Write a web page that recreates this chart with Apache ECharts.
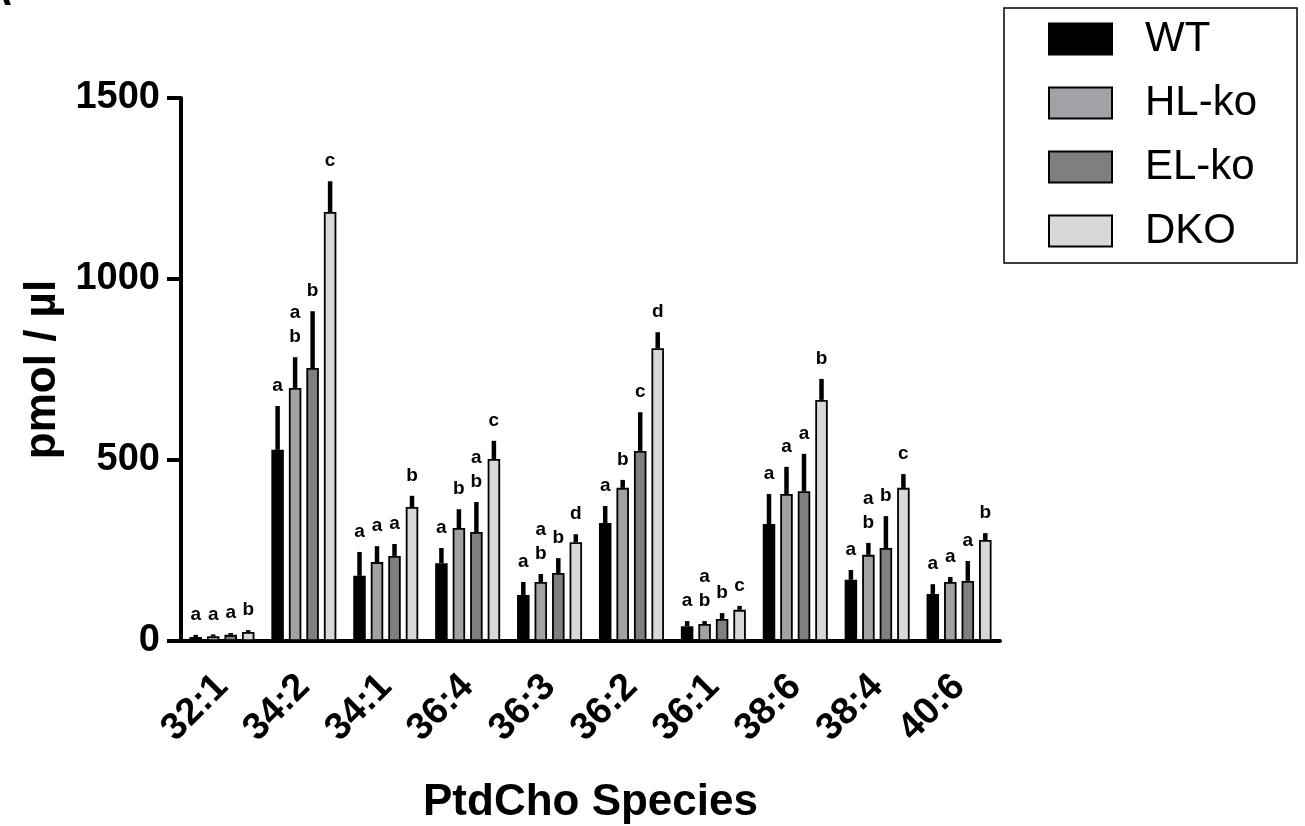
<!DOCTYPE html>
<html>
<head>
<meta charset="utf-8">
<script src="https://cdn.jsdelivr.net/npm/echarts@6/dist/echarts.min.js"></script>
<style>
  html, body { margin: 0; padding: 0; background: #fff; }
  #chart { width: 1305px; height: 826px; }
</style>
</head>
<body>
<div id="chart"></div>
<script>
// PtdCho species, mean and SD (upper bar only), letters from the stats test
const categories = ['32:1', '34:2', '34:1', '36:4', '36:3', '36:2', '36:1', '38:6', '38:4', '40:6'];
const groups = ['WT', 'HL-ko', 'EL-ko', 'DKO'];
const colors = ['#000000', '#a2a2a6', '#7f7f7f', '#d8d8d8'];

const wt     = [11, 528, 180, 215, 127, 326, 41, 323, 169, 130];
const wtErr  = [6, 121, 66, 42, 36, 47, 14, 83, 27, 27];
const hl     = [13, 699, 218, 312, 163, 423, 47, 406, 238, 163];
const hlErr  = [5, 85, 44, 52, 22, 22, 8, 75, 33, 14];
const el     = [17, 754, 235, 301, 188, 525, 61, 414, 257, 166];
const elErr  = [5, 157, 33, 83, 41, 107, 16, 103, 88, 55];
const dko    = [25, 1185, 370, 503, 273, 809, 86, 666, 423, 279];
const dkoErr = [5, 85, 31, 50, 22, 44, 11, 58, 38, 19];

const wtSig  = ['a', 'a', 'a', 'a', 'a', 'a', 'a', 'a', 'a', 'a'];
const hlSig  = ['a', 'ab', 'a', 'b', 'ab', 'b', 'ab', 'a', 'ab', 'a'];
const elSig  = ['a', 'b', 'a', 'ab', 'b', 'c', 'b', 'a', 'b', 'a'];
const dkoSig = ['b', 'c', 'b', 'c', 'd', 'd', 'c', 'b', 'c', 'b'];

const yTicks = [0, 500, 1000, 1500];

const means = [wt, hl, el, dko];
const errs = [wtErr, hlErr, elErr, dkoErr];
const sigs = [wtSig, hlSig, elSig, dkoSig];

const FONT = '"Liberation Sans", Arial, Helvetica, sans-serif';
const BAR_W = 12.5;
const BAR_GAP = 0.4;
const STEP = BAR_W * (1 + BAR_GAP);

const chart = echarts.init(document.getElementById('chart'));

const barSeries = groups.map((g, i) => ({
  name: g,
  type: 'bar',
  data: means[i],
  barWidth: BAR_W,
  barGap: (BAR_GAP * 100) + '%',
  itemStyle: { color: colors[i], borderColor: '#000', borderWidth: 1.8 },
  emphasis: { disabled: true },
  z: 2
}));

// error bar + significance letters drawn on top of each bar
const errSeries = groups.map((g, i) => ({
  type: 'custom',
  data: categories.map((c, k) => [k, means[i][k], errs[i][k]]),
  z: 3,
  silent: true,
  renderItem: function (params, api) {
    const k = api.value(0), m = api.value(1), e = api.value(2);
    const lo = api.coord([k, m]);
    const hi = api.coord([k, m + e]);
    const cx = lo[0] + (i - 1.5) * STEP;
    const txt = sigs[i][params.dataIndex].split('').join('\n');
    return {
      type: 'group',
      children: [
        { type: 'line', shape: { x1: cx, y1: lo[1], x2: cx, y2: hi[1] },
          style: { stroke: '#000', lineWidth: 4.5 } },
        { type: 'text', x: cx, y: hi[1] - 8,
          style: { text: txt, fill: '#000', font: 'bold 19px ' + FONT,
                   align: 'center', verticalAlign: 'bottom', lineHeight: 24 } }
      ]
    };
  }
}));

chart.setOption({
  animation: false,
  backgroundColor: '#fff',
  textStyle: { fontFamily: FONT },
  graphic: [{
    type: 'text', left: -17, top: -26,
    style: { text: 'A', font: 'bold 40px ' + FONT, fill: '#000' }
  }],
  legend: {
    data: groups,
    orient: 'vertical',
    left: 1004,
    top: 8,
    padding: [10, 40, 11, 44],
    itemWidth: 63,
    itemHeight: 31,
    itemGap: 22,
    icon: 'rect',
    borderColor: '#000',
    borderWidth: 1.5,
    selectedMode: false,
    textStyle: { fontSize: 42, color: '#000', fontFamily: FONT, padding: [0, 0, 0, 28] }
  },
  grid: { left: 181, right: 305, top: 98, bottom: 185, containLabel: false, outerBoundsMode: 'none' },
  xAxis: {
    type: 'category',
    data: categories,
    name: 'PtdCho Species',
    nameLocation: 'middle',
    nameGap: 140,
    nameTextStyle: { fontSize: 44, fontWeight: 'bold', color: '#000' },
    axisLine: { lineStyle: { color: '#000', width: 4 } },
    axisTick: { alignWithLabel: true, length: 15, lineStyle: { color: '#000', width: 4 } },
    axisLabel: { interval: 0, rotate: 45, margin: 40, fontSize: 38, fontWeight: 'bold', color: '#000' }
  },
  yAxis: {
    type: 'value',
    min: yTicks[0],
    max: yTicks[yTicks.length - 1],
    interval: yTicks[1] - yTicks[0],
    name: 'pmol / µl',
    nameLocation: 'middle',
    nameGap: 113,
    nameTextStyle: { fontSize: 44, fontWeight: 'bold', color: '#000' },
    axisLine: { show: true, lineStyle: { color: '#000', width: 4 } },
    axisTick: { show: true, length: 14, lineStyle: { color: '#000', width: 4 } },
    splitLine: { show: false },
    axisLabel: { margin: 21, fontSize: 38, fontWeight: 'bold', color: '#000',
                 formatter: v => String(v) }
  },
  series: barSeries.concat(errSeries)
});
</script>
</body>
</html>
